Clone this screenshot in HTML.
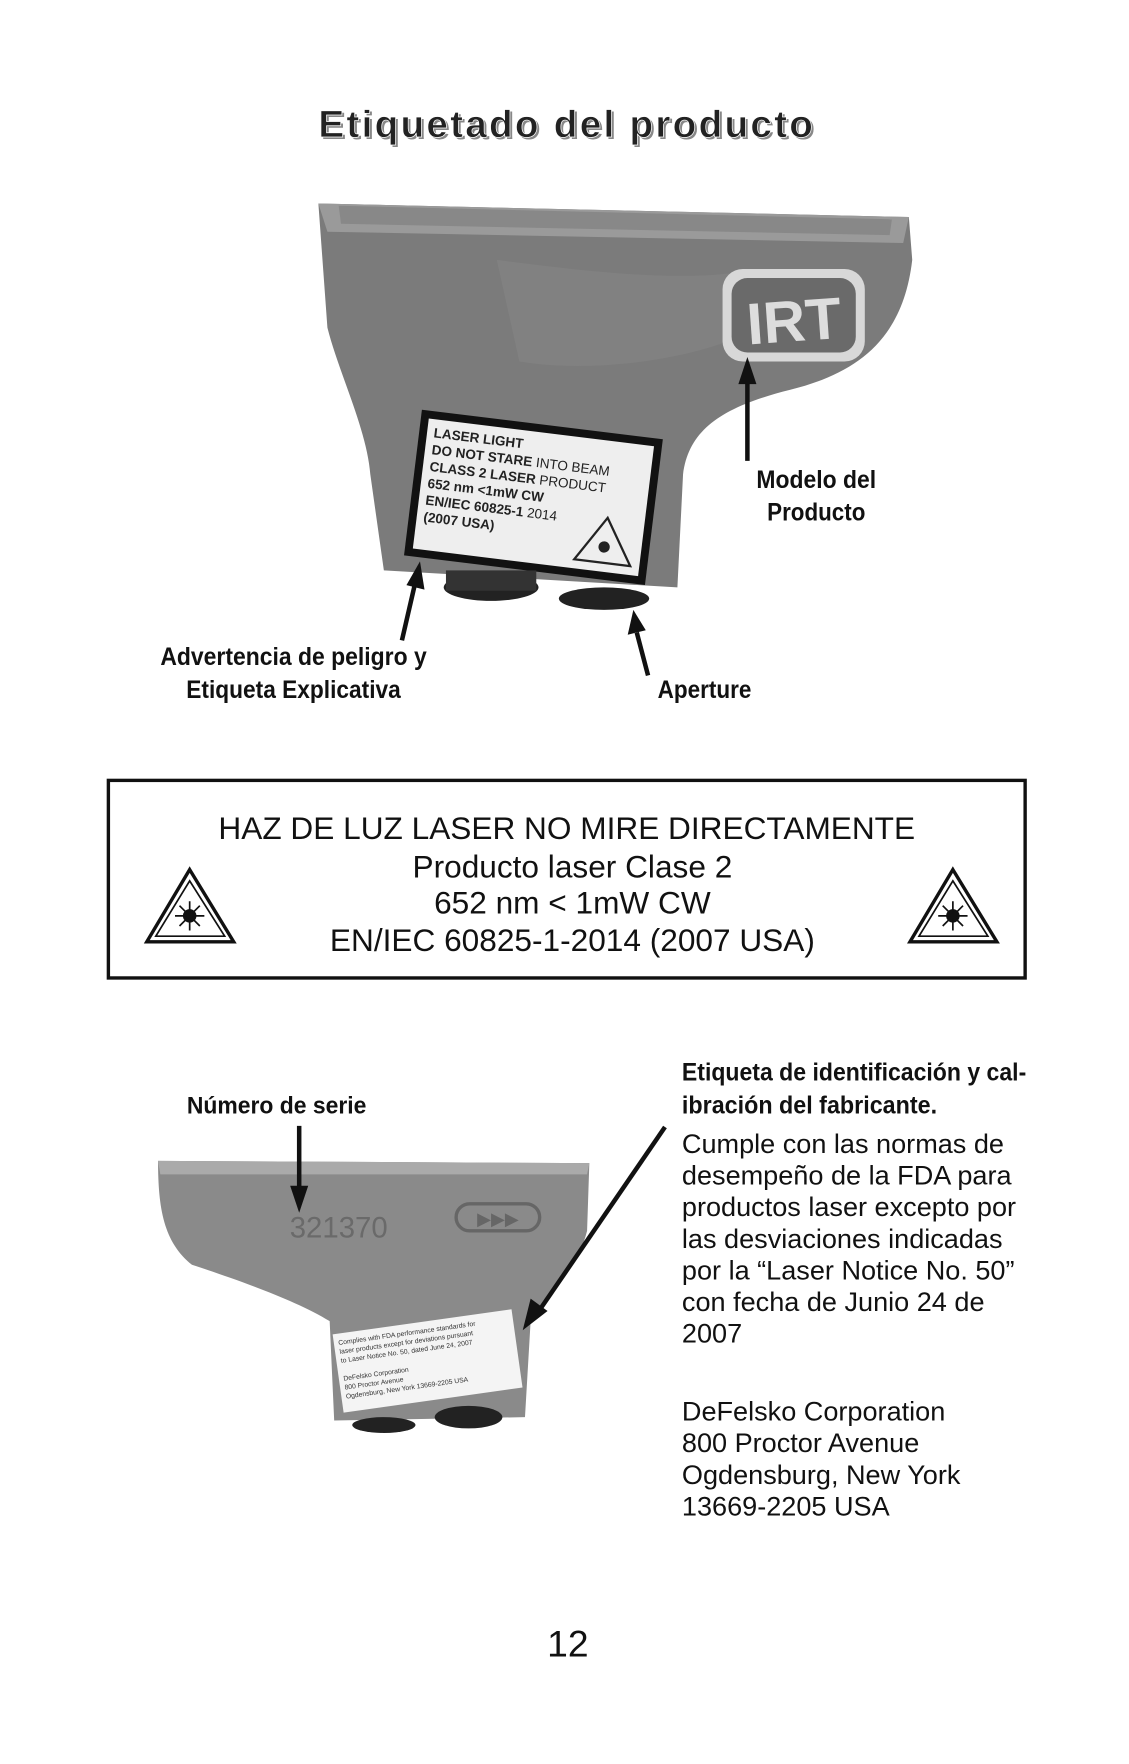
<!DOCTYPE html>
<html><head><meta charset="utf-8"><style>
html,body{margin:0;padding:0;background:#fff}
svg{display:block}
.t{font-family:"Liberation Sans",sans-serif}
.n{font-family:"Liberation Sans Narrow","Liberation Sans",sans-serif;font-weight:bold}
</style></head><body>
<svg width="1129" height="1764" viewBox="0 0 1000 1562" xmlns="http://www.w3.org/2000/svg">
<rect width="1000" height="1562" fill="#fff"/>
<!-- title -->
<text x="504" y="123" text-anchor="middle" class="t" font-weight="bold" font-size="34" fill="#888" letter-spacing="2" textLength="440" lengthAdjust="spacingAndGlyphs">Etiquetado del producto</text>
<text x="502" y="121" text-anchor="middle" class="t" font-weight="bold" font-size="34" fill="#222" letter-spacing="2" stroke="#fff" stroke-width="0.6" textLength="440" lengthAdjust="spacingAndGlyphs">Etiquetado del producto</text>

<!-- device 1 -->
<path d="M282,180 L805,192 L808,230 C800,300 760,330 700,345 C640,360 610,380 605,420 L600,520 L340,505 L328,420 C325,380 300,330 290,290 Z" fill="#7b7b7b"/>
<path d="M282,180 L805,192 L800,215 L290,205 Z" fill="#9a9a9a"/>
<path d="M300,182 L790,194 L788,208 L302,198 Z" fill="#888"/>
<path d="M440,230 C520,240 600,250 660,240 L650,300 C600,320 520,330 460,320 Z" fill="#858585" opacity="0.6"/>
<rect x="640" y="238" width="126" height="82" rx="18" fill="#d8d8d8"/>
<rect x="648" y="246" width="110" height="66" rx="14" fill="#6a6a6a"/>
<text x="703" y="302" text-anchor="middle" class="t" font-weight="bold" font-size="52" fill="#ddd" transform="rotate(-4 703 280)">IRT</text>
<g transform="rotate(7 470 440)">
<rect x="365" y="375" width="215" height="130" fill="#111"/>
<rect x="372" y="382" width="201" height="116" fill="#eee"/>
<g class="t" font-weight="bold" font-size="12" fill="#222">
<text x="378" y="398">LASER LIGHT</text>
<text x="378" y="413">DO NOT STARE <tspan font-weight="normal">INTO BEAM</tspan></text>
<text x="378" y="428">CLASS 2 LASER <tspan font-weight="normal">PRODUCT</tspan></text>
<text x="378" y="443">652 nm &lt;1mW CW</text>
<text x="378" y="458">EN/IEC 60825-1 <tspan font-weight="normal">2014</tspan></text>
<text x="378" y="473">(2007 USA)</text>
</g>
<path d="M540,450 L565,490 L515,490 Z" fill="none" stroke="#222" stroke-width="2"/>
<circle cx="540" cy="476" r="5" fill="#222"/>
</g>
<ellipse cx="435" cy="520" rx="42" ry="12" fill="#222"/>
<ellipse cx="535" cy="530" rx="40" ry="10" fill="#222"/>
<rect x="395" y="505" width="80" height="18" fill="#333"/>
<g stroke="#111" stroke-width="4" fill="#111">
<line x1="662" y1="408" x2="662" y2="335"/><path d="M654,340 L662,316 L670,340 Z" stroke="none"/>
<line x1="356" y1="567" x2="368" y2="515"/><path d="M360,518 L372,497 L376,522 Z" stroke="none"/>
<line x1="574" y1="598" x2="564" y2="560"/><path d="M556,562 L561,540 L572,558 Z" stroke="none"/>
</g>
<g class="n" font-size="22" fill="#111" text-anchor="middle">
<text x="723" y="432" textLength="106" lengthAdjust="spacingAndGlyphs">Modelo del</text>
<text x="723" y="461" textLength="87" lengthAdjust="spacingAndGlyphs">Producto</text>
<text x="260" y="589" textLength="236" lengthAdjust="spacingAndGlyphs">Advertencia de peligro y</text>
<text x="260" y="618" textLength="190" lengthAdjust="spacingAndGlyphs">Etiqueta Explicativa</text>
<text x="624" y="618" textLength="83" lengthAdjust="spacingAndGlyphs">Aperture</text>
</g>

<rect x="96" y="691" width="812" height="175" fill="none" stroke="#111" stroke-width="3"/>
<g class="t" font-size="28" fill="#111" text-anchor="middle">
<text x="502" y="743">HAZ DE LUZ LASER NO MIRE DIRECTAMENTE</text>
<text x="507" y="777">Producto laser Clase 2</text>
<text x="507" y="809">652 nm &lt; 1mW CW</text>
<text x="507" y="842">EN/IEC 60825-1-2014 (2007 USA)</text>
</g>
<g fill="none" stroke="#111" stroke-width="3">
<path d="M168,770 L207,834 L130,834 Z"/><path d="M844,770 L883,834 L806,834 Z"/>
<path d="M168,780 L199,829 L138,829 Z" stroke-width="1.5"/><path d="M844,780 L875,829 L814,829 Z" stroke-width="1.5"/>
</g>
<circle cx="168" cy="811" r="6" fill="#111"/><circle cx="844" cy="811" r="6" fill="#111"/>
<g stroke="#111" stroke-width="1.5">
<path d="M155,811 H181 M168,798 V824 M159,802 L177,820 M177,802 L159,820"/>
<path d="M831,811 H857 M844,798 V824 M835,802 L853,820 M853,802 L835,820"/>
</g>

<path d="M140,1028 L522,1030 L520,1090 C510,1130 480,1150 470,1170 L465,1255 L296,1258 L292,1170 C260,1150 200,1130 170,1120 C145,1100 140,1070 140,1028 Z" fill="#8a8a8a"/>
<path d="M140,1028 L522,1030 L520,1040 L142,1040 Z" fill="#aaa"/>
<text x="300" y="1096" text-anchor="middle" class="t" font-size="26" fill="#6a6a6a">321370</text>
<rect x="404" y="1066" width="74" height="24" rx="12" fill="none" stroke="#666" stroke-width="3"/>
<text x="441" y="1085" text-anchor="middle" class="t" font-size="16" fill="#666">▶▶▶</text>
<g transform="rotate(-8 380 1200)">
<rect x="298" y="1170" width="160" height="70" fill="#f4f4f4"/>
<g class="t" font-size="6" fill="#333">
<text x="302" y="1180">Complies with FDA performance standards for</text>
<text x="302" y="1188">laser products except for deviations pursuant</text>
<text x="302" y="1196">to Laser Notice No. 50, dated June 24, 2007</text>
<text x="302" y="1212">DeFelsko Corporation</text>
<text x="302" y="1220">800 Proctor Avenue</text>
<text x="302" y="1228">Ogdensburg, New York 13669-2205 USA</text>
</g></g>
<ellipse cx="340" cy="1262" rx="28" ry="7" fill="#222"/>
<ellipse cx="415" cy="1255" rx="30" ry="10" fill="#222"/>
<g stroke="#111" stroke-width="4" fill="#111">
<line x1="265" y1="997" x2="265" y2="1055"/><path d="M257,1050 L265,1074 L273,1050 Z" stroke="none"/>
<line x1="589" y1="998" x2="478" y2="1160"/><path d="M470,1150 L463,1178 L485,1161 Z" stroke="none"/>
</g>
<text x="245" y="986" text-anchor="middle" class="n" font-size="21" fill="#111" textLength="159" lengthAdjust="spacingAndGlyphs">Número de serie</text>
<g class="n" font-size="22" fill="#111">
<text x="604" y="957" textLength="305" lengthAdjust="spacingAndGlyphs">Etiqueta de identificación y cal-</text>
<text x="604" y="986" textLength="226" lengthAdjust="spacingAndGlyphs">ibración del fabricante.</text>
</g>
<g class="t" font-size="24" fill="#111">
<text x="604" y="1021">Cumple con las normas de</text>
<text x="604" y="1049">desempeño de la FDA para</text>
<text x="604" y="1077">productos laser excepto por</text>
<text x="604" y="1105">las desviaciones indicadas</text>
<text x="604" y="1133">por la “Laser Notice No. 50”</text>
<text x="604" y="1161">con fecha de Junio 24 de</text>
<text x="604" y="1189">2007</text>
<text x="604" y="1258">DeFelsko Corporation</text>
<text x="604" y="1286">800 Proctor Avenue</text>
<text x="604" y="1314">Ogdensburg, New York</text>
<text x="604" y="1342">13669-2205 USA</text>
</g>
<text x="503" y="1467" text-anchor="middle" class="t" font-size="33" fill="#111">12</text>
</svg>
</body></html>
